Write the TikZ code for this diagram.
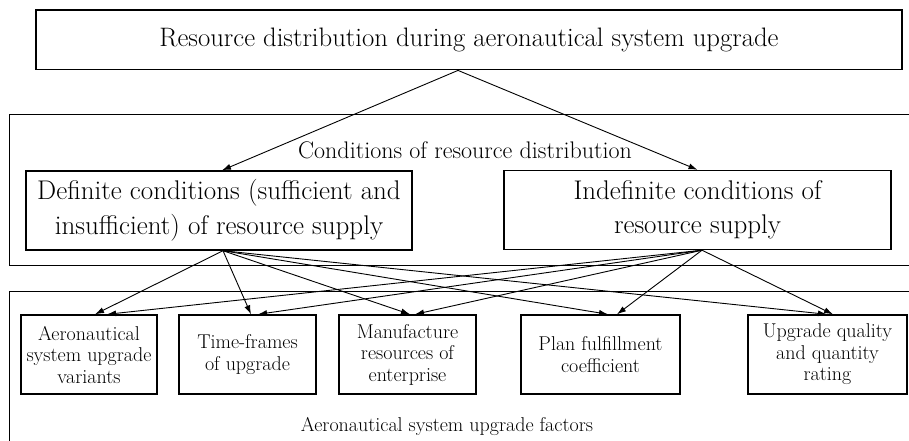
\documentclass[tikz,border=0pt]{standalone}
\usetikzlibrary{arrows.meta,calc}
\tikzset{
  box/.style={draw, line width=1.4pt, inner sep=0pt, align=center},
  frame/.style={draw, line width=0.9pt},
  arr/.style={line width=0.9pt, -{Latex[length=9pt,width=6pt]}},
}
\begin{document}
\begin{tikzpicture}[x=1pt,y=-1pt]
\useasboundingbox (0,0) rectangle (909,440);
\fill[white] (0,0) rectangle (909,440);
% frames
\draw[frame] (920,114) -- (9.5,114) -- (9.5,265) -- (920,265);
\draw[frame] (920,291) -- (9.5,291) -- (9.5,450);
% top
\node[box, line width=1.8pt, minimum width=866pt, minimum height=59.5pt, font=\fontsize{26.7}{30}\selectfont] (top) at (469,39.75) {Resource distribution during aeronautical system upgrade};
\node[font=\fontsize{24}{30}\selectfont] (cond) at (465,150) {Conditions of resource distribution};
\node[box, minimum width=386pt, minimum height=79pt, font=\fontsize{27}{34.5}\selectfont] (def) at (219,210.5) {Definite conditions (sufficient and\\insufficient) of resource supply};
\node[box, minimum width=387pt, minimum height=79pt, font=\fontsize{27}{34.5}\selectfont] (ind) at (697.5,210) {Indefinite conditions of\\resource supply};
% bottom boxes
\tikzset{sbox/.style={box, minimum height=79pt, font=\fontsize{20}{21.5}\selectfont}}
\node[sbox, minimum width=136pt] (b1) at (89,354.5) {Aeronautical\\system upgrade\\variants};
\node[sbox, minimum width=137pt] (b2) at (247.5,354.5) {Time-frames\\of upgrade};
\node[sbox, minimum width=137pt] (b3) at (407.5,354.5) {Manufacture\\resources of\\enterprise};
\node[sbox, minimum width=159pt] (b4) at (600.5,354.5) {Plan fulfillment\\coefficient};
\node[sbox, minimum width=159pt] (b5) at (827.5,354.5) {Upgrade quality\\and quantity\\rating};
\node[font=\fontsize{20}{22}\selectfont] (fac) at (447,426) {Aeronautical system upgrade factors};
% coordinates
\coordinate (ts) at ($(top.south)+(-11,0)$);
\coordinate (ds) at ($(def.south)+(4,0)$);
\coordinate (is) at ($(ind.south)+(4.5,0)$);
% top arrows
\draw[arr] (ts) -- ($(def.north)+(3,0)$);
\draw[arr] (ts) -- (ind.north);
% definite arrows
\draw[arr] (ds) -- ($(b1.north)+(6,0)$);
\draw[arr] (ds) -- ($(b2.north)+(3.5,0)$);
\draw[arr] (ds) -- ($(b3.north)+(2.5,0)$);
\draw[arr] (ds) -- ($(b4.north)+(7.5,0)$);
\draw[arr] (ds) -- ($(b5.north)+(-0.5,0)$);
% indefinite arrows
\draw[arr] (is) -- ($(b1.north)+(18,0)$);
\draw[arr] (is) -- ($(b2.north)+(10.5,0)$);
\draw[arr] (is) -- ($(b3.north)+(7.5,0)$);
\draw[arr] (is) -- ($(b4.north)+(16.5,0)$);
\draw[arr] (is) -- ($(b5.north)+(5.5,0)$);
\end{tikzpicture}
\end{document}
